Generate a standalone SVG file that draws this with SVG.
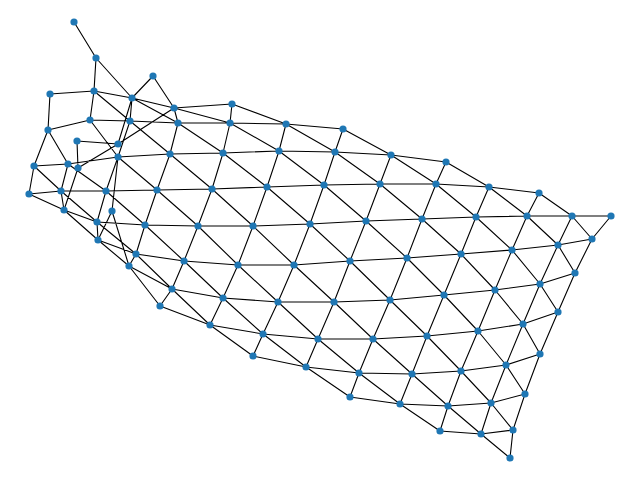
<svg xmlns="http://www.w3.org/2000/svg" width="640" height="480" viewBox="0 0 640 480">
<style>
line{stroke:#000;stroke-width:1.1;fill:none}
circle{fill:#1f77b4;stroke:none}
</style>
<rect width="640" height="480" fill="#fff"/>
<g id="edges">
<path stroke="#000" stroke-width="1.1" fill="none" d="
M74,22L96,58 M96,58L94,91 M96,58L132,98 M153,76L132,98 M153,76L174,108 M77,141L118,144 M77,141L78,168 M174,108L118,144 M118,144L78,168 M132,98L118,144 M112,211L118,157 M112,211L98,240 M112,211L129,266 M78,168L64,210
M50,94L94,91 M94,91L132,98 M132,98L174,108 M174,108L232,104
M50,94L48,130 M94,91L90,120 M94,91L130,121 M132,98L130,121 M132,98L178,123 M174,108L178,123 M174,108L230,123 M232,104L230,123 M232,104L286,124
M48,130L90,120 M90,120L130,121 M130,121L178,123 M178,123L230,123 M230,123L286,124 M286,124L343,129
M48,130L34,166 M48,130L68,164 M90,120L118,157 M130,121L118,157 M130,121L170,154 M178,123L170,154 M178,123L223,153 M230,123L223,153 M230,123L279,151 M286,124L279,151 M286,124L335,152 M343,129L335,152 M343,129L391,155
M34,166L68,164 M68,164L118,157 M118,157L170,154 M170,154L223,153 M223,153L279,151 M279,151L335,152 M335,152L391,155 M391,155L446,162
M34,166L29,194 M34,166L61,191 M68,164L61,191 M68,164L106,191 M118,157L106,191 M118,157L157,190 M170,154L157,190 M170,154L212,189 M223,153L212,189 M223,153L267,187 M279,151L267,187 M279,151L324,185 M335,152L324,185 M335,152L380,184 M391,155L380,184 M391,155L436,184 M446,162L436,184 M446,162L489,187
M29,194L61,191 M61,191L106,191 M106,191L157,190 M157,190L212,189 M212,189L267,187 M267,187L324,185 M324,185L380,184 M380,184L436,184 M436,184L489,187 M489,187L539,193
M29,194L64,210 M61,191L64,210 M61,191L97,222 M106,191L97,222 M106,191L145,225 M157,190L145,225 M157,190L198,226 M212,189L198,226 M212,189L253,226 M267,187L253,226 M267,187L310,224 M324,185L310,224 M324,185L366,221 M380,184L366,221 M380,184L422,219 M436,184L422,219 M436,184L476,217 M489,187L476,217 M489,187L527,216 M539,193L527,216 M539,193L572,216
M64,210L97,222 M97,222L145,225 M145,225L198,226 M198,226L253,226 M253,226L310,224 M310,224L366,221 M366,221L422,219 M422,219L476,217 M476,217L527,216 M527,216L572,216 M572,216L611,216
M64,210L98,240 M97,222L98,240 M97,222L136,254 M145,225L136,254 M145,225L184,261 M198,226L184,261 M198,226L238,265 M253,226L238,265 M253,226L294,265 M310,224L294,265 M310,224L350,261 M366,221L350,261 M366,221L407,258 M422,219L407,258 M422,219L461,254 M476,217L461,254 M476,217L512,250 M527,216L512,250 M527,216L558,245 M572,216L558,245 M572,216L592,239 M611,216L592,239
M98,240L136,254 M136,254L184,261 M184,261L238,265 M238,265L294,265 M294,265L350,261 M350,261L407,258 M407,258L461,254 M461,254L512,250 M512,250L558,245 M558,245L592,239
M98,240L129,266 M136,254L129,266 M136,254L172,289 M184,261L172,289 M184,261L223,298 M238,265L223,298 M238,265L278,302 M294,265L278,302 M294,265L334,302 M350,261L334,302 M350,261L390,300 M407,258L390,300 M407,258L444,295 M461,254L444,295 M461,254L495,290 M512,250L495,290 M512,250L540,284 M558,245L540,284 M558,245L575,273 M592,239L575,273
M129,266L172,289 M172,289L223,298 M223,298L278,302 M278,302L334,302 M334,302L390,300 M390,300L444,295 M444,295L495,290 M495,290L540,284 M540,284L575,273
M129,266L160,306 M172,289L160,306 M172,289L210,325 M223,298L210,325 M223,298L263,334 M278,302L263,334 M278,302L318,339 M334,302L318,339 M334,302L373,339 M390,300L373,339 M390,300L427,336 M444,295L427,336 M444,295L478,331 M495,290L478,331 M495,290L523,324 M540,284L523,324 M540,284L558,312 M575,273L558,312
M160,306L210,325 M210,325L263,334 M263,334L318,339 M318,339L373,339 M373,339L427,336 M427,336L478,331 M478,331L523,324 M523,324L558,312
M210,325L253,356 M263,334L253,356 M263,334L306,367 M318,339L306,367 M318,339L359,373 M373,339L359,373 M373,339L412,374 M427,336L412,374 M427,336L461,371 M478,331L461,371 M478,331L506,365 M523,324L506,365 M523,324L540,354 M558,312L540,354
M253,356L306,367 M306,367L359,373 M359,373L412,374 M412,374L461,371 M461,371L506,365 M506,365L540,354
M306,367L350,397 M359,373L350,397 M359,373L400,404 M412,374L400,404 M412,374L448,406 M461,371L448,406 M461,371L491,403 M506,365L491,403 M506,365L525,394 M540,354L525,394
M350,397L400,404 M400,404L448,406 M448,406L491,403 M491,403L525,394
M400,404L440,431 M448,406L440,431 M448,406L481,434 M491,403L481,434 M491,403L513,430 M525,394L513,430
M440,431L481,434 M481,434L513,430 M481,434L510,458 M513,430L510,458"/>
</g>
<g id="nodes">
<g id="n1"><circle cx="74" cy="22" r="3.6"/></g>
<g id="n2"><circle cx="96" cy="58" r="3.6"/></g>
<g id="n3"><circle cx="153" cy="76" r="3.6"/></g>
<g id="n4"><circle cx="50" cy="94" r="3.6"/></g>
<g id="n5"><circle cx="94" cy="91" r="3.6"/></g>
<g id="n6"><circle cx="132" cy="98" r="3.6"/></g>
<g id="n7"><circle cx="174" cy="108" r="3.6"/></g>
<g id="n8"><circle cx="232" cy="104" r="3.6"/></g>
<g id="n9"><circle cx="48" cy="130" r="3.6"/></g>
<g id="n10"><circle cx="90" cy="120" r="3.6"/></g>
<g id="n11"><circle cx="130" cy="121" r="3.6"/></g>
<g id="n12"><circle cx="178" cy="123" r="3.6"/></g>
<g id="n13"><circle cx="230" cy="123" r="3.6"/></g>
<g id="n14"><circle cx="286" cy="124" r="3.6"/></g>
<g id="n15"><circle cx="343" cy="129" r="3.6"/></g>
<g id="n16"><circle cx="77" cy="141" r="3.6"/></g>
<g id="n17"><circle cx="118" cy="144" r="3.6"/></g>
<g id="n18"><circle cx="34" cy="166" r="3.6"/></g>
<g id="n19"><circle cx="68" cy="164" r="3.6"/></g>
<g id="n20"><circle cx="78" cy="168" r="3.6"/></g>
<g id="n21"><circle cx="118" cy="157" r="3.6"/></g>
<g id="n22"><circle cx="170" cy="154" r="3.6"/></g>
<g id="n23"><circle cx="223" cy="153" r="3.6"/></g>
<g id="n24"><circle cx="279" cy="151" r="3.6"/></g>
<g id="n25"><circle cx="335" cy="152" r="3.6"/></g>
<g id="n26"><circle cx="391" cy="155" r="3.6"/></g>
<g id="n27"><circle cx="446" cy="162" r="3.6"/></g>
<g id="n28"><circle cx="29" cy="194" r="3.6"/></g>
<g id="n29"><circle cx="61" cy="191" r="3.6"/></g>
<g id="n30"><circle cx="106" cy="191" r="3.6"/></g>
<g id="n31"><circle cx="157" cy="190" r="3.6"/></g>
<g id="n32"><circle cx="212" cy="189" r="3.6"/></g>
<g id="n33"><circle cx="267" cy="187" r="3.6"/></g>
<g id="n34"><circle cx="324" cy="185" r="3.6"/></g>
<g id="n35"><circle cx="380" cy="184" r="3.6"/></g>
<g id="n36"><circle cx="436" cy="184" r="3.6"/></g>
<g id="n37"><circle cx="489" cy="187" r="3.6"/></g>
<g id="n38"><circle cx="539" cy="193" r="3.6"/></g>
<g id="n39"><circle cx="64" cy="210" r="3.6"/></g>
<g id="n40"><circle cx="112" cy="211" r="3.6"/></g>
<g id="n41"><circle cx="97" cy="222" r="3.6"/></g>
<g id="n42"><circle cx="145" cy="225" r="3.6"/></g>
<g id="n43"><circle cx="198" cy="226" r="3.6"/></g>
<g id="n44"><circle cx="253" cy="226" r="3.6"/></g>
<g id="n45"><circle cx="310" cy="224" r="3.6"/></g>
<g id="n46"><circle cx="366" cy="221" r="3.6"/></g>
<g id="n47"><circle cx="422" cy="219" r="3.6"/></g>
<g id="n48"><circle cx="476" cy="217" r="3.6"/></g>
<g id="n49"><circle cx="527" cy="216" r="3.6"/></g>
<g id="n50"><circle cx="572" cy="216" r="3.6"/></g>
<g id="n51"><circle cx="611" cy="216" r="3.6"/></g>
<g id="n52"><circle cx="98" cy="240" r="3.6"/></g>
<g id="n53"><circle cx="136" cy="254" r="3.6"/></g>
<g id="n54"><circle cx="184" cy="261" r="3.6"/></g>
<g id="n55"><circle cx="238" cy="265" r="3.6"/></g>
<g id="n56"><circle cx="294" cy="265" r="3.6"/></g>
<g id="n57"><circle cx="350" cy="261" r="3.6"/></g>
<g id="n58"><circle cx="407" cy="258" r="3.6"/></g>
<g id="n59"><circle cx="461" cy="254" r="3.6"/></g>
<g id="n60"><circle cx="512" cy="250" r="3.6"/></g>
<g id="n61"><circle cx="558" cy="245" r="3.6"/></g>
<g id="n62"><circle cx="592" cy="239" r="3.6"/></g>
<g id="n63"><circle cx="129" cy="266" r="3.6"/></g>
<g id="n64"><circle cx="172" cy="289" r="3.6"/></g>
<g id="n65"><circle cx="223" cy="298" r="3.6"/></g>
<g id="n66"><circle cx="278" cy="302" r="3.6"/></g>
<g id="n67"><circle cx="334" cy="302" r="3.6"/></g>
<g id="n68"><circle cx="390" cy="300" r="3.6"/></g>
<g id="n69"><circle cx="444" cy="295" r="3.6"/></g>
<g id="n70"><circle cx="495" cy="290" r="3.6"/></g>
<g id="n71"><circle cx="540" cy="284" r="3.6"/></g>
<g id="n72"><circle cx="575" cy="273" r="3.6"/></g>
<g id="n73"><circle cx="160" cy="306" r="3.6"/></g>
<g id="n74"><circle cx="210" cy="325" r="3.6"/></g>
<g id="n75"><circle cx="263" cy="334" r="3.6"/></g>
<g id="n76"><circle cx="318" cy="339" r="3.6"/></g>
<g id="n77"><circle cx="373" cy="339" r="3.6"/></g>
<g id="n78"><circle cx="427" cy="336" r="3.6"/></g>
<g id="n79"><circle cx="478" cy="331" r="3.6"/></g>
<g id="n80"><circle cx="523" cy="324" r="3.6"/></g>
<g id="n81"><circle cx="558" cy="312" r="3.6"/></g>
<g id="n82"><circle cx="253" cy="356" r="3.6"/></g>
<g id="n83"><circle cx="306" cy="367" r="3.6"/></g>
<g id="n84"><circle cx="359" cy="373" r="3.6"/></g>
<g id="n85"><circle cx="412" cy="374" r="3.6"/></g>
<g id="n86"><circle cx="461" cy="371" r="3.6"/></g>
<g id="n87"><circle cx="506" cy="365" r="3.6"/></g>
<g id="n88"><circle cx="540" cy="354" r="3.6"/></g>
<g id="n89"><circle cx="350" cy="397" r="3.6"/></g>
<g id="n90"><circle cx="400" cy="404" r="3.6"/></g>
<g id="n91"><circle cx="448" cy="406" r="3.6"/></g>
<g id="n92"><circle cx="491" cy="403" r="3.6"/></g>
<g id="n93"><circle cx="525" cy="394" r="3.6"/></g>
<g id="n94"><circle cx="440" cy="431" r="3.6"/></g>
<g id="n95"><circle cx="481" cy="434" r="3.6"/></g>
<g id="n96"><circle cx="513" cy="430" r="3.6"/></g>
<g id="n97"><circle cx="510" cy="458" r="3.6"/></g>
</g>
</svg>
